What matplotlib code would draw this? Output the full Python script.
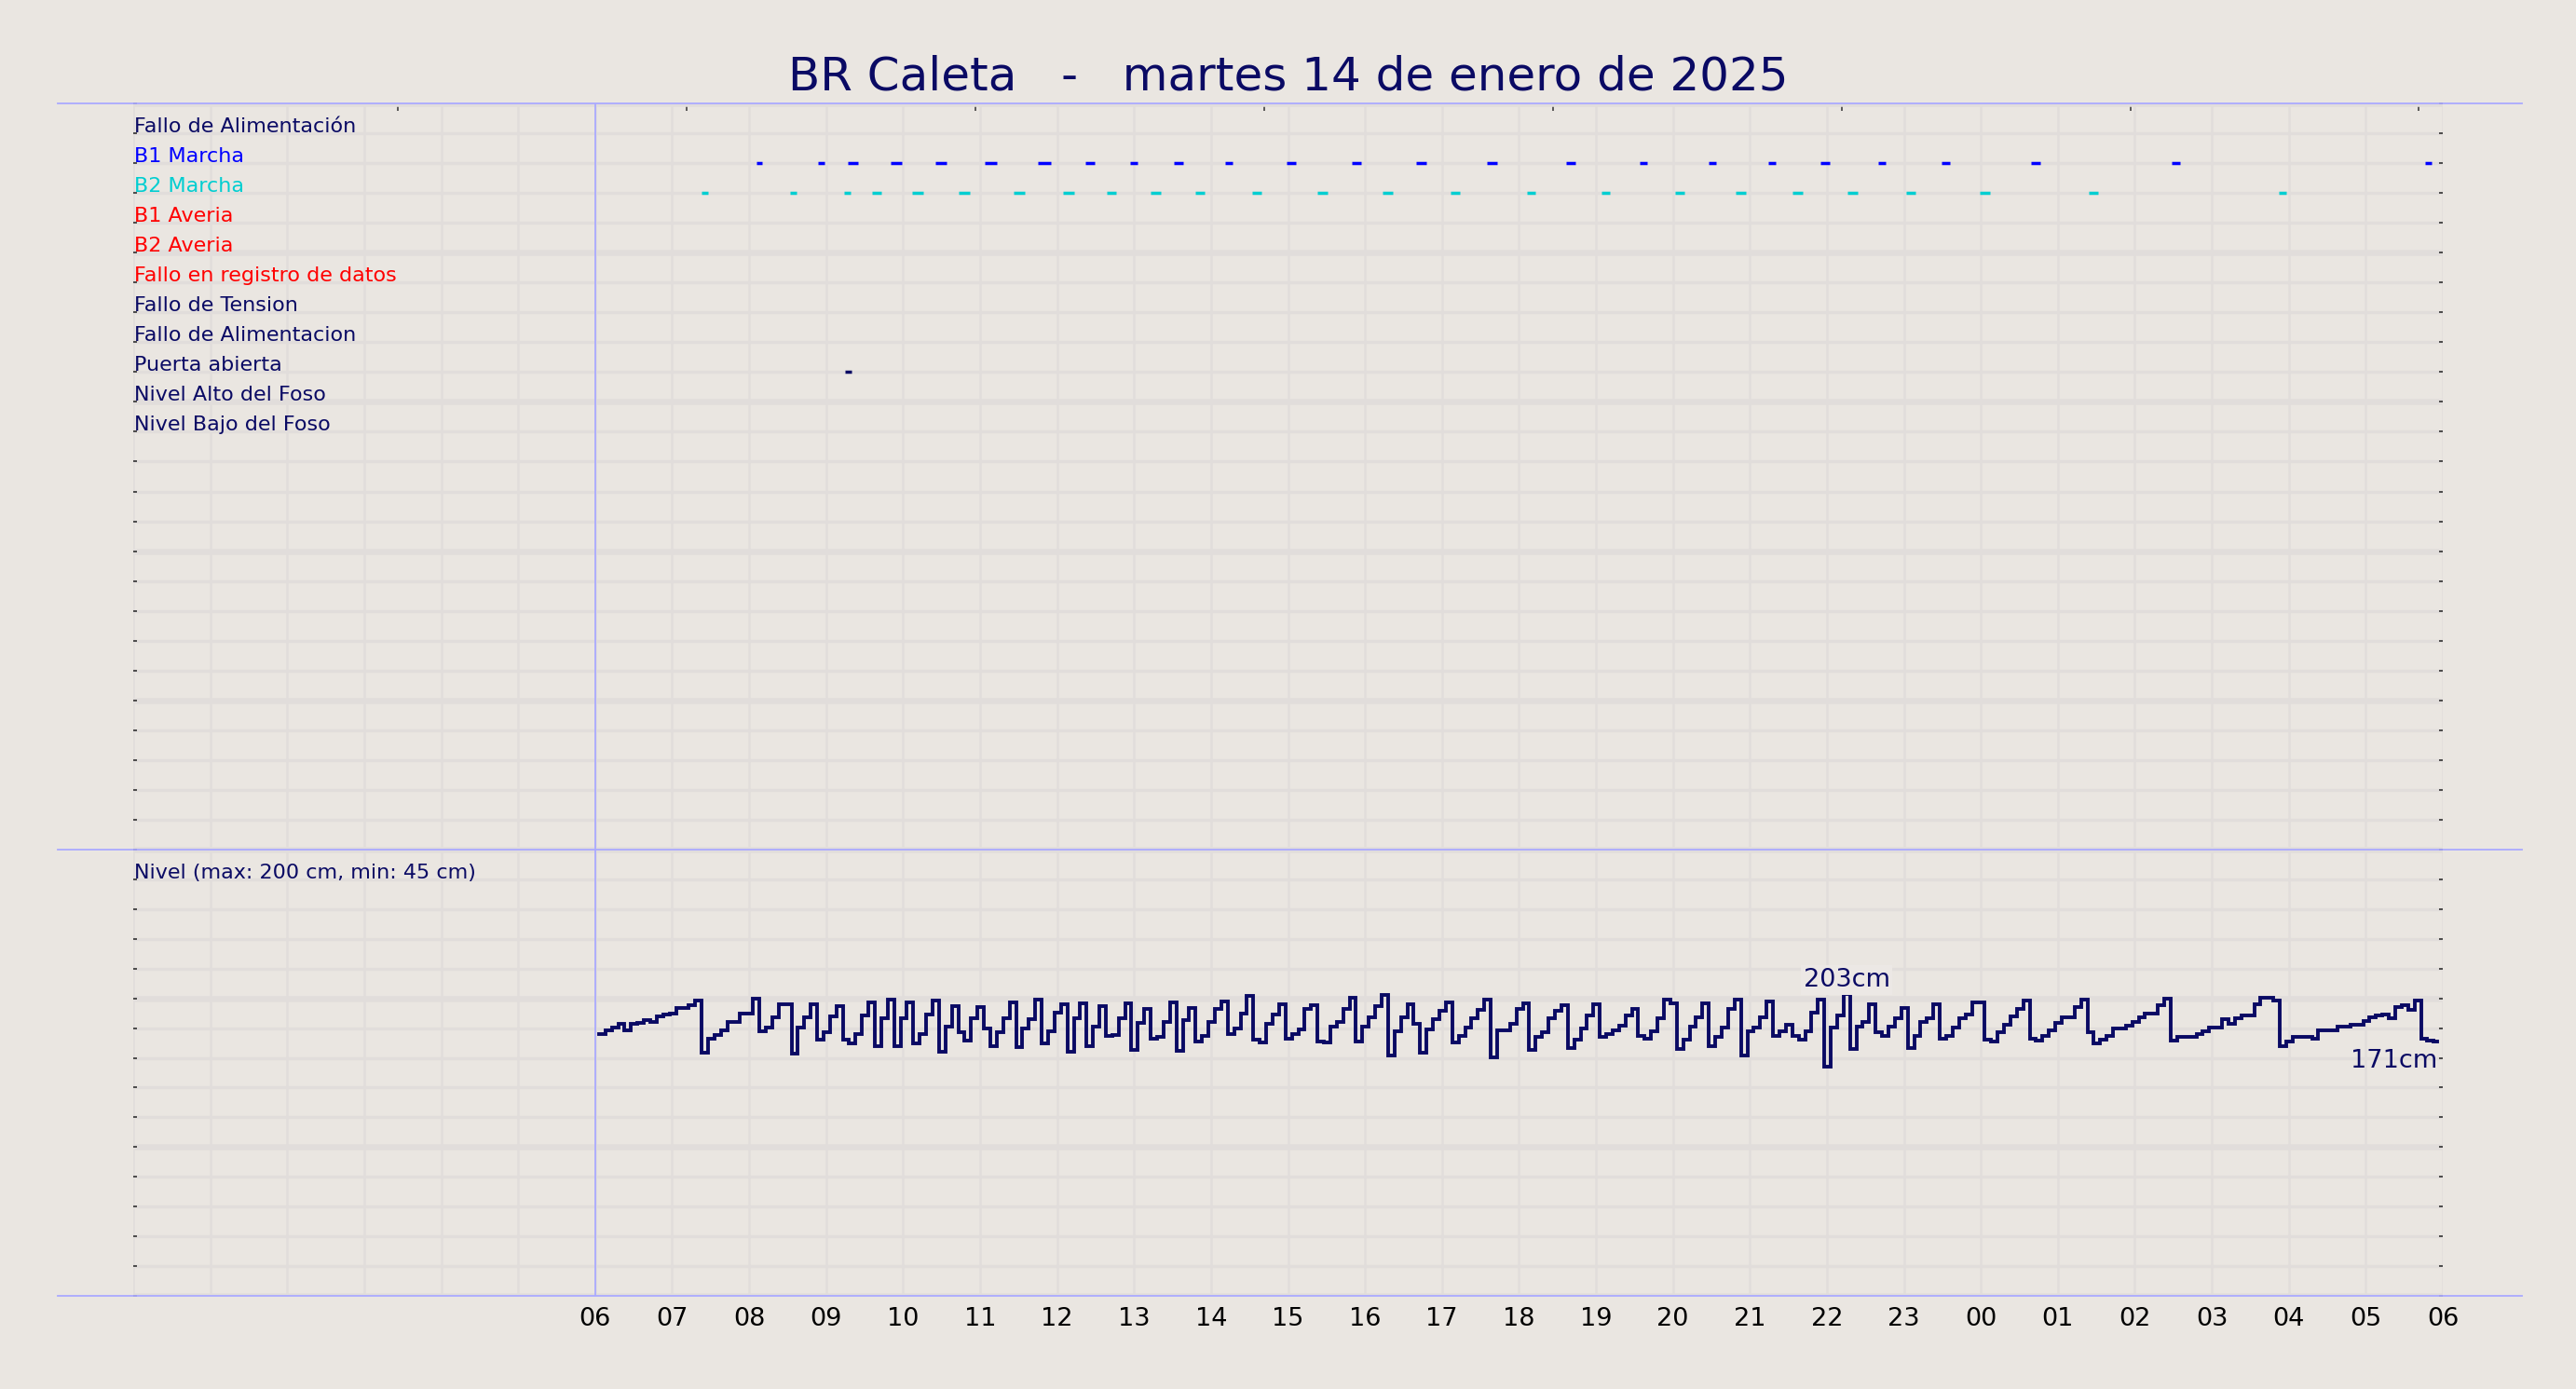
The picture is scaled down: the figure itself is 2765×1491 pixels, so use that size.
import matplotlib
matplotlib.use('Agg')
import matplotlib.pyplot as plt
from matplotlib.lines import Line2D

BG = '#EAE6E1'
GRID = '#E1DDDB'
NAVY = '#0A0A64'
LAV = '#AAAAFF'

title = 'BR Caleta   -   martes 14 de enero de 2025'

signal_labels = ['Fallo de Alimentación', 'B1 Marcha', 'B2 Marcha', 'B1 Averia', 'B2 Averia',
                 'Fallo en registro de datos', 'Fallo de Tension', 'Fallo de Alimentacion',
                 'Puerta abierta', 'Nivel Alto del Foso', 'Nivel Bajo del Foso']
signal_colors = [NAVY, '#0000FF', '#00CED1', '#FF0000', '#FF0000', '#FF0000',
                 NAVY, NAVY, NAVY, NAVY, NAVY]

b1_start = ['08:06', '08:54', '09:17', '09:50', '10:25', '11:04', '11:45', '12:22', '12:57',
            '13:31', '14:11', '14:59', '15:50', '16:40', '17:35', '18:37', '19:34', '20:28',
            '21:14', '21:55', '22:40', '23:29', '00:39', '02:29', '05:46']
b1_end = ['08:10', '08:59', '09:25', '09:59', '10:34', '11:13', '11:55', '12:29', '13:03',
          '13:38', '14:17', '15:06', '15:57', '16:48', '17:43', '18:44', '19:40', '20:34',
          '21:20', '22:02', '22:46', '23:36', '00:46', '02:35', '05:51']

b2_start = ['07:23', '08:32', '09:14', '09:36', '10:07', '10:43', '11:26', '12:05', '12:39',
            '13:13', '13:48', '14:32', '15:23', '16:14', '17:07', '18:06', '19:04', '20:02',
            '20:49', '21:33', '22:16', '23:02', '23:59', '01:24', '03:52']
b2_end = ['07:28', '08:37', '09:19', '09:43', '10:16', '10:52', '11:35', '12:13', '12:46',
          '13:21', '13:55', '14:39', '15:31', '16:22', '17:14', '18:13', '19:11', '20:09',
          '20:57', '21:41', '22:24', '23:09', '00:07', '01:31', '03:58']

puerta_start = ['09:15']
puerta_end = ['09:20']

level_first = '06:03'
level_interval_min = 5
level_last = '05:56'
level_cm = [
    176, 178.5, 180.6, 182.7, 178.5, 182.7, 183.3, 185.4, 184.3, 188, 189, 190, 193.7, 193.7, 195.2, 198.3,
    163.5, 172.9, 175.6, 178.5, 184.3, 184.3, 190, 190, 199.6, 178, 180.6, 187, 196, 196,
    163, 180.6, 187.5, 196, 172.5, 177, 188, 195, 172, 169.5,
    176, 188.5, 197, 168, 186.6, 199, 168, 186.6, 197, 170,
    176, 189, 198.5, 164, 181, 195, 177, 171.6, 186.6, 194,
    180, 168, 177, 186.6, 197, 167, 179.5, 186, 199, 170,
    178, 190.6, 196, 164, 186.8, 196.9, 168, 181, 194.8, 175,
    175.6, 186.4, 196.5, 165.6, 183.3, 193.1, 172.9, 173.9, 184.3, 197.3,
    164.5, 185.4, 193.7, 170.8, 175, 184.3, 192.7, 197.9, 176, 180,
    189.6, 201.5, 172.2, 170.1, 182.7, 188.9, 195.8, 172.9, 176, 178.9,
    192.7, 195.2, 171.2, 170.4, 181.2, 183.9, 193.1, 200.6, 170.8, 181.2,
    187.5, 194.8, 202, 161.4, 178, 187.5, 195.8, 182.7, 163.5, 179.1,
    186, 191.6, 197.3, 170.1, 175, 180.2, 186.8, 192.3, 199, 160.3,
    178.5, 178.5, 183, 192.7, 196.5, 165.1, 174.3, 177, 186.4, 191.6,
    195.2, 166.6, 172.2, 180, 188.5, 195.8, 173.9, 176, 178.5, 181.8,
    188.5, 193.1, 175, 172.9, 178, 186.4, 199.4, 196.9, 166, 172,
    181.2, 187.5, 196.9, 167.6, 173.9, 180.2, 193.1, 199, 161.4, 178,
    180.6, 187.5, 197.9, 175, 178, 182.3, 175, 172.2, 178, 190.6,
    199.4, 154, 180.2, 188.5, 203, 166, 181.2, 184.3, 195.8, 177,
    175, 181.2, 186.4, 193.7, 166.6, 175, 184.3, 186.4, 195.8, 172.9,
    175, 180.2, 186.4, 189, 197.2, 197, 172.3, 170.8, 177.1, 182,
    187.7, 193, 198.3, 172.9, 171.4, 175, 178.2, 183.5, 187.1, 187.1,
    194.1, 199.4, 177, 169.7, 172, 175, 179.9, 179.9, 181.4, 184.1,
    187.1, 189.8, 189.8, 195.1, 200, 171.4, 174, 174.4, 174.4, 176,
    177.8, 180.3, 180.3, 186, 182.9, 186.7, 188.8, 188.8, 196.2, 200.4,
    200.4, 198.3, 168, 170.8, 174.4, 174.4, 174.4, 172.9, 178.2, 178.2,
    178.2, 180.7, 180.7, 182.4, 182.4, 185, 187.1, 188.8, 189.2, 186.7,
    194.1, 195.1, 192, 198.3, 172.9, 171.4, 171,
]

hour_labels = ['06', '07', '08', '09', '10', '11', '12', '13', '14', '15', '16', '17', '18',
               '19', '20', '21', '22', '23', '00', '01', '02', '03', '04', '05', '06']
top_tick_hours = [3.44, 7.19, 10.94, 14.69, 18.44, 22.19, 25.94, 29.69]
level_caption = 'Nivel (max: 200 cm, min: 45 cm)'


def to_h(s):
    h, m = map(int, s.split(':'))
    v = h + m / 60.0
    if v < 6:
        v += 24
    return v


plt.rcParams['font.family'] = ['DejaVu Sans']
fig = plt.figure(figsize=(27.65, 14.91), dpi=100, facecolor=BG)
L, W = 0.05172, 0.89656
ax1 = fig.add_axes([L, 0.38833, W, 0.53722])
ax2 = fig.add_axes([L, 0.06707, W, 0.32126])

for ax, ymax, major, minor in ((ax1, 25, 5, 1), (ax2, 300, 100, 20)):
    ax.set_facecolor(BG)
    ax.set_xlim(0, 30)
    ax.set_ylim(0, ymax)
    for sp in ax.spines.values():
        sp.set_visible(False)
    ax.set_axisbelow(True)
    ax.set_yticks(range(0, ymax + 1, major))
    ax.set_yticks(range(0, ymax + 1, minor), minor=True)
    ax.set_xticks(range(0, 31))
    ax.grid(True, which='major', axis='y', color=GRID, lw=4.7)
    ax.grid(True, which='minor', axis='y', color=GRID, lw=2.4)
    ax.grid(True, which='major', axis='x', color=GRID, lw=1.8)
    ax.tick_params(axis='y', which='both', direction='in', length=3.2, width=1.1,
                   colors='#222222', left=True, right=True, labelleft=False, labelright=False)
    ax.tick_params(axis='x', which='both', length=0)
    ax.axvline(6, color=LAV, lw=1.3, zorder=1.5)

ax1.tick_params(axis='x', labelbottom=False)
ax2.set_xticklabels([''] * 6 + hour_labels)
ax2.tick_params(axis='x', labelsize=19.5, labelcolor='black', pad=9)

sec = ax1.secondary_xaxis('top')
sec.set_xticks(top_tick_hours)
sec.tick_params(direction='in', length=6, width=1.1, colors='#333333', labeltop=False)
sec.spines['top'].set_visible(False)

# signal labels
for i, (lab, col) in enumerate(zip(signal_labels, signal_colors)):
    ax1.annotate(lab, xy=(0, 24 - i), xytext=(1, 1), textcoords='offset pixels',
                 ha='left', va='baseline', fontsize=16, color=col)

# event segments
for starts, ends, row, col in ((b1_start, b1_end, 1, '#0000FF'),
                               (b2_start, b2_end, 2, '#00CED1'),
                               (puerta_start, puerta_end, 8, NAVY)):
    for s, e in zip(starts, ends):
        ax1.plot([to_h(s), to_h(e)], [24 - row, 24 - row], color=col, lw=2.5,
                 solid_capstyle='butt', zorder=3)

# level
t0 = to_h(level_first)
times = [t0 + k * level_interval_min / 60.0 for k in range(len(level_cm))]
times_plot = times + [to_h(level_last)]
vals_plot = level_cm + [level_cm[-1]]
ax2.step(times_plot, vals_plot, where='post', color=NAVY, lw=2.8, zorder=3,
         solid_joinstyle='miter')
ax2.annotate(level_caption, xy=(0, 280), xytext=(1, 1), textcoords='offset pixels',
             ha='left', va='baseline', fontsize=16, color=NAVY)

imax = max(range(len(level_cm)), key=lambda k: level_cm[k])
ax2.annotate(f'{level_cm[imax]:.0f}cm', xy=(times[imax] + level_interval_min / 120.0, level_cm[imax]),
             xytext=(0, 2), textcoords='offset pixels', ha='center', va='bottom',
             fontsize=19.5, color=NAVY, zorder=4,
             bbox=dict(boxstyle='square,pad=0.1', fc='#ECE8E5', ec='none'))
ax2.annotate(f'{level_cm[-1]:.0f}cm', xy=(times_plot[-1], level_cm[-1]),
             xytext=(0, -8), textcoords='offset pixels', ha='right', va='top',
             fontsize=19.5, color=NAVY, zorder=4)

# frame lines
for y in (0.92555, 0.38833, 0.06707):
    fig.add_artist(Line2D([0.02242, 0.97902], [y, y], transform=fig.transFigure,
                          color=LAV, lw=1.3, zorder=5))

fig.text(0.5, 0.9445, title, ha='center', va='center', fontsize=36, color=NAVY)

fig.savefig('out.png', dpi=100, facecolor=BG)
